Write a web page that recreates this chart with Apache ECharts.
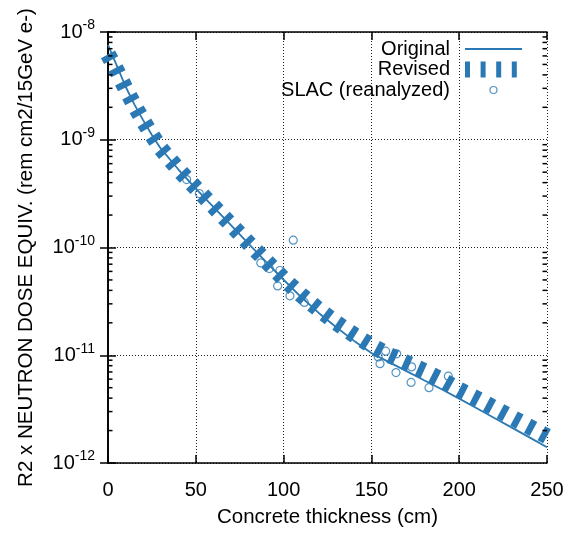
<!DOCTYPE html>
<html>
<head>
<meta charset="utf-8">
<script src="https://cdn.jsdelivr.net/npm/echarts@6/dist/echarts.min.js"></script>
<style>
html,body{margin:0;padding:0;background:#fff;}
#chart{width:574px;height:533px;}
</style>
</head>
<body>
<div id="chart"></div>
<script>
// ---- data ----
const thickness = [0, 5, 10, 15, 20, 25, 30, 40, 50, 60, 70, 80, 90, 100, 110, 120, 130, 140, 150, 160, 170, 180, 190, 200, 210, 220, 230, 240, 250];
const original = [7.59e-9, 4.87e-9, 3.12e-9, 2.13e-9, 1.52e-9, 1.106e-9, 8.31e-10, 5.32e-10, 3.52e-10, 2.38e-10, 1.61e-10, 1.088e-10, 7.36e-11, 5.02e-11, 3.47e-11, 2.47e-11, 1.82e-11, 1.366e-11, 1.049e-11, 8.63e-12, 7.12e-12, 5.86e-12, 4.83e-12, 3.96e-12, 3.22e-12, 2.62e-12, 2.13e-12, 1.73e-12, 1.40e-12];
const revised = [6.2e-9, 4.38e-9, 2.99e-9, 2.09e-9, 1.50e-9, 1.106e-9, 8.31e-10, 5.32e-10, 3.57e-10, 2.41e-10, 1.63e-10, 1.10e-10, 7.51e-11, 5.13e-11, 3.62e-11, 2.66e-11, 2.00e-11, 1.552e-11, 1.229e-11, 1.005e-11, 8.49e-12, 7.17e-12, 5.92e-12, 4.79e-12, 3.96e-12, 3.24e-12, 2.65e-12, 2.17e-12, 1.77e-12];
const slacX = [44.8, 52.0, 87.0, 91.9, 96.6, 97.9, 103.6, 105.5, 111.8, 153.9, 154.9, 158.1, 164.0, 164.4, 172.6, 172.9, 182.8, 193.8];
const slacY = [4.27e-10, 3.17e-10, 7.2e-11, 6.38e-11, 4.40e-11, 6.12e-11, 3.56e-11, 1.17e-10, 3.09e-11, 9.64e-12, 8.36e-12, 1.09e-11, 6.91e-12, 1.03e-11, 5.60e-12, 7.80e-12, 5.00e-12, 6.40e-12];
const seriesNames = ['Original', 'Revised', 'SLAC (reanalyzed)'];
const xTitle = 'Concrete thickness (cm)';
const yTitle = 'R2 x NEUTRON DOSE EQUIV. (rem cm2/15GeV e-)';
const minorMultipliers = [2, 3, 4, 5, 6, 7, 8, 9];
const decades = [-12, -11, -10, -9];

// ---- styling ----
const BLUE = '#2a79b4';
const FONT = '"Liberation Sans", Arial, Helvetica, sans-serif';
const gridDots = { show: true, lineStyle: { color: '#222', width: 1, type: [1, 2] } };

const minorTickVals = [];
decades.forEach(d => minorMultipliers.forEach(m => minorTickVals.push([0, m * Math.pow(10, d)])));

const chart = echarts.init(document.getElementById('chart'), null, { renderer: 'canvas' });

const axisLineStyle = { show: true, lineStyle: { color: '#000', width: 1.6 } };
const majorTick = { show: true, inside: true, length: 8, lineStyle: { color: '#000', width: 1.5 } };

chart.setOption({
  animation: false,
  backgroundColor: '#fff',
  textStyle: { fontFamily: FONT },
  grid: { left: 108, right: 27, top: 32, bottom: 66, containLabel: false },
  legend: {
    orient: 'vertical',
    right: 44,
    top: 39,
    padding: 0,
    itemGap: 0.5,
    itemWidth: 57,
    itemHeight: 16,
    align: 'right',
    selectedMode: false,
    textStyle: { fontSize: 20, color: '#000', fontFamily: FONT, lineHeight: 20, padding: [0, 10, 0, 0] },
    data: [
      { name: seriesNames[0], itemStyle: { opacity: 0 }, lineStyle: { color: BLUE, width: 2, type: 'solid' } },
      { name: seriesNames[1], itemStyle: { opacity: 0 }, lineStyle: { color: BLUE, width: 16, type: [5, 10.6], cap: 'butt' } },
      { name: seriesNames[2], icon: 'path://M0,0M57,16M32,8A3.5,3.5,0,1,1,25,8A3.5,3.5,0,1,1,32,8Z',
        itemStyle: { color: 'rgba(0,0,0,0)', borderColor: BLUE, borderWidth: 1.2 } }
    ]
  },
  xAxis: [
    {
      type: 'value', min: 0, max: 250, interval: 50, position: 'bottom',
      name: xTitle, nameLocation: 'middle', nameGap: 44,
      nameTextStyle: { fontSize: 20.5, color: '#000', fontFamily: FONT },
      axisLine: axisLineStyle, axisTick: majorTick,
      axisLabel: { fontSize: 20, color: '#000', margin: 17, fontFamily: FONT },
      splitLine: gridDots
    },
    {
      type: 'value', min: 0, max: 250, interval: 50, position: 'top',
      axisLine: axisLineStyle, axisTick: majorTick,
      axisLabel: { show: false }, splitLine: { show: false }
    }
  ],
  yAxis: [
    {
      type: 'log', logBase: 10, min: 1e-12, max: 1e-8, position: 'left',
      name: yTitle, nameLocation: 'middle', nameGap: 71, nameRotate: 90,
      nameTextStyle: { fontSize: 20.5, color: '#000', fontFamily: FONT },
      axisLine: axisLineStyle, axisTick: majorTick,
      axisLabel: {
        margin: 13,
        formatter: function (v) {
          const e = Math.round(Math.log10(v));
          return '{b|10}{s|' + e + '}';
        },
        rich: {
          b: { fontSize: 20, color: '#000', fontFamily: FONT },
          s: { fontSize: 14, color: '#000', fontFamily: FONT, padding: [0, 0, 13, 0] }
        }
      },
      splitLine: gridDots
    },
    {
      type: 'log', logBase: 10, min: 1e-12, max: 1e-8, position: 'right',
      axisLine: axisLineStyle, axisTick: majorTick,
      axisLabel: { show: false }, splitLine: { show: false }
    }
  ],
  series: [
    {
      name: 'minorTicks', type: 'custom', xAxisIndex: 0, yAxisIndex: 0, silent: true,
      data: minorTickVals, encode: { x: 0, y: 1 }, z: 5,
      renderItem: function (params, api) {
        const v = api.value(1);
        const pL = api.coord([0, v]);
        const pR = api.coord([250, v]);
        const st = { stroke: '#000', lineWidth: 1.5 };
        return {
          type: 'group', children: [
            { type: 'line', shape: { x1: pL[0], y1: pL[1], x2: pL[0] + 4.5, y2: pL[1] }, style: st },
            { type: 'line', shape: { x1: pR[0] - 4.5, y1: pR[1], x2: pR[0], y2: pR[1] }, style: st }
          ]
        };
      }
    },
    {
      name: seriesNames[0], type: 'line', xAxisIndex: 0, yAxisIndex: 0,
      data: thickness.map((x, i) => [x, original[i]]),
      symbol: 'none', clip: false, z: 3,
      itemStyle: { color: BLUE },
      lineStyle: { color: BLUE, width: 1.8 }
    },
    {
      name: seriesNames[1], type: 'line', xAxisIndex: 0, yAxisIndex: 0,
      data: thickness.map((x, i) => [x, revised[i]]),
      symbol: 'none', clip: false, z: 4,
      itemStyle: { color: BLUE },
      lineStyle: { color: BLUE, width: 16, type: [6.5, 9], cap: 'butt', join: 'miter' }
    },
    {
      name: seriesNames[2], type: 'scatter', xAxisIndex: 0, yAxisIndex: 0,
      data: slacX.map((x, i) => [x, slacY[i]]),
      symbol: 'circle', symbolSize: 8, z: 6,
      itemStyle: { color: 'rgba(0,0,0,0)', borderColor: BLUE, borderWidth: 1.2 }
    }
  ]
});
</script>
</body>
</html>
